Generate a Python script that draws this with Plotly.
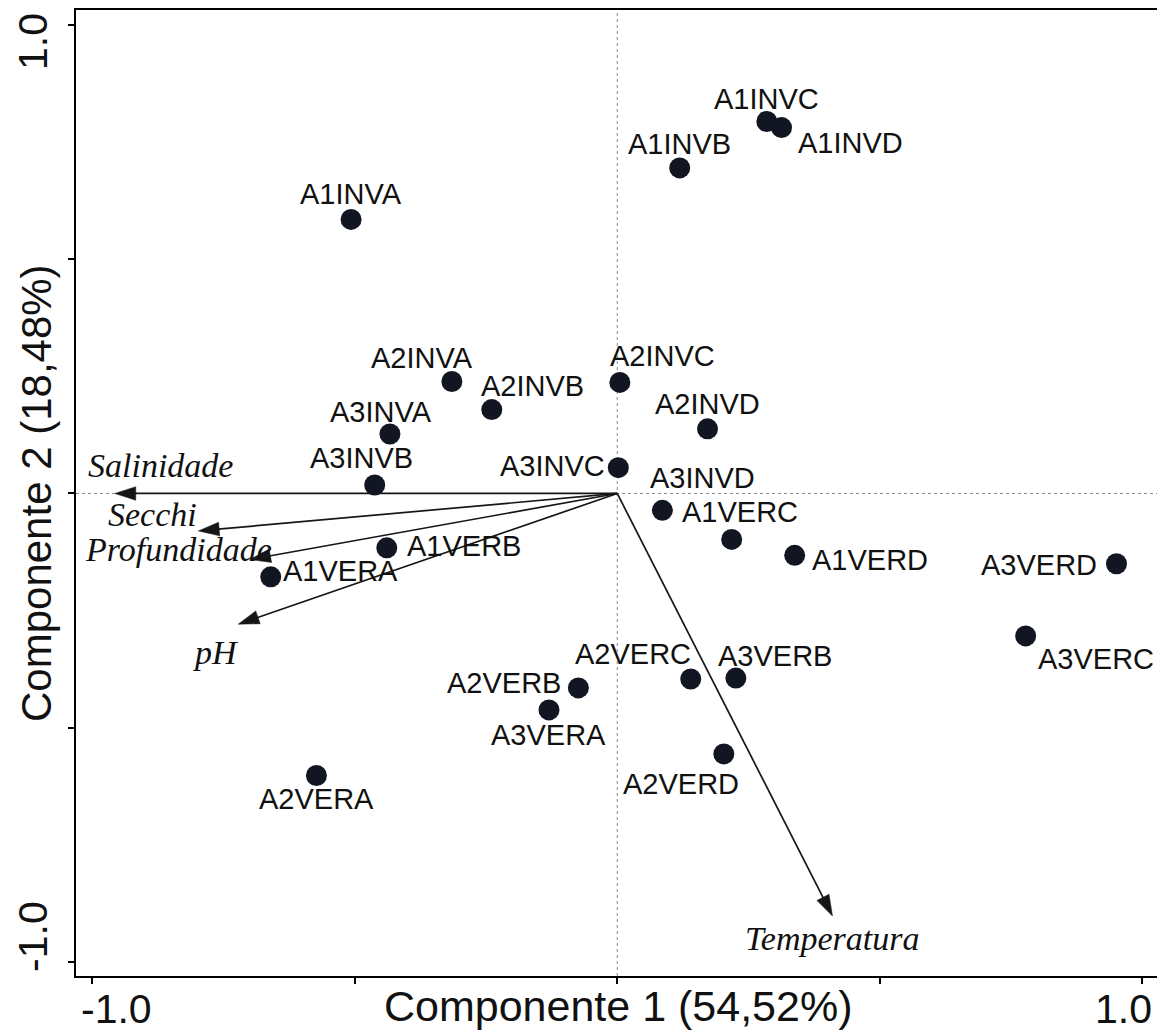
import plotly.graph_objects as go

# ---------------- data ----------------
samples = ["A1INVA", "A1INVB", "A1INVC", "A1INVD",
           "A2INVA", "A2INVB", "A2INVC", "A2INVD",
           "A3INVA", "A3INVB", "A3INVC", "A3INVD",
           "A1VERA", "A1VERB", "A1VERC", "A1VERD",
           "A2VERA", "A2VERB", "A2VERC", "A2VERD",
           "A3VERA", "A3VERB", "A3VERC", "A3VERD"]
pc1 = [-0.507, 0.119, 0.285, 0.313,
       -0.315, -0.239, 0.005, 0.172,
       -0.433, -0.462, 0.002, 0.086,
       -0.660, -0.439, 0.218, 0.338,
       -0.573, -0.074, 0.140, 0.203,
       -0.130, 0.226, 0.778, 0.951]
pc2 = [0.585, 0.695, 0.794, 0.781,
       0.239, 0.179, 0.237, 0.138,
       0.127, 0.018, 0.055, -0.036,
       -0.178, -0.116, -0.098, -0.132,
       -0.602, -0.415, -0.396, -0.556,
       -0.462, -0.394, -0.304, -0.150]

variables = ["Salinidade", "Secchi", "Profundidade", "pH", "Temperatura"]
load1 = [-0.957, -0.798, -0.700, -0.722, 0.410]
load2 = [0.000, -0.080, -0.141, -0.279, -0.902]

tick_vals = [-1.0, -0.5, 0.0, 0.5, 1.0]
tick_labels = ["-1.0", "", "", "", "1.0"]

x_title = "Componente 1 (54,52%)"
y_title = "Componente 2 (18,48%)"

# ---------------- styles (pixel offsets of labels) ----------------
sample_label_shift = {
    "A1INVA": (0, 25), "A1INVB": (0, 24), "A1INVC": (0, 23), "A1INVD": (69, -15),
    "A2INVA": (-30, 24), "A2INVB": (41, 24), "A2INVC": (43, 26), "A2INVD": (0, 25),
    "A3INVA": (-9, 22), "A3INVB": (-13, 27), "A3INVC": (-66, 2), "A3INVD": (40, 32),
    "A1VERA": (70, 6), "A1VERB": (77, 2), "A1VERC": (8, 27), "A1VERD": (75, -5),
    "A2VERA": (0, -24), "A2VERB": (-74, 5), "A2VERC": (-58, 25), "A2VERD": (-43, -30),
    "A3VERA": (0, -25), "A3VERB": (39, 22), "A3VERC": (70, -23), "A3VERD": (-77, -1),
}
var_label_shift = {
    "Salinidade": (46, 28), "Secchi": (-46, 16), "Profundidade": (-71, 10),
    "pH": (-22, -28), "Temperatura": (0, -22),
}
xtick_shift = {-1.0: 24, 1.0: -19}
ytick_shift = {-1.0: 25, 1.0: -17}

SANS = "Arial, Liberation Sans, sans-serif"
SERIF = "Times New Roman, Liberation Serif, serif"
DOT = "#111622"
INK = "#111111"
ARROW = "#161616"

fig = go.Figure()

# loading arrows
for name, lx, ly in zip(variables, load1, load2):
    fig.add_trace(go.Scatter(
        x=[0, lx], y=[0, ly], mode="lines+markers",
        line=dict(color=ARROW, width=1.7),
        marker=dict(symbol="arrow", size=[0, 22], angleref="previous", color=ARROW,
                    opacity=1, line=dict(width=0.5, color=ARROW)),
        hoverinfo="skip", showlegend=False, cliponaxis=False,
    ))

# sample points
fig.add_trace(go.Scatter(
    x=pc1, y=pc2, mode="markers", text=samples,
    marker=dict(size=21, color=DOT, line=dict(width=0)),
    showlegend=False, cliponaxis=False,
))

annotations = []
for name, x, y in zip(samples, pc1, pc2):
    dx, dy = sample_label_shift[name]
    annotations.append(dict(x=x, y=y, xref="x", yref="y", text=name, showarrow=False,
                            xshift=dx, yshift=dy, font=dict(family=SANS, size=29, color=INK)))
for name, lx, ly in zip(variables, load1, load2):
    dx, dy = var_label_shift[name]
    annotations.append(dict(x=lx, y=ly, xref="x", yref="y", text="<i>%s</i>" % name,
                            showarrow=False, xshift=dx, yshift=dy,
                            font=dict(family=SERIF, size=34, color=INK)))
# tick labels
for v, t in zip(tick_vals, tick_labels):
    if not t:
        continue
    annotations.append(dict(x=v, y=0, xref="x", yref="paper", text=t, showarrow=False,
                            xanchor="center", yanchor="middle",
                            xshift=xtick_shift[v], yshift=-33,
                            font=dict(family=SANS, size=41, color=INK)))
    annotations.append(dict(x=0, y=v, xref="paper", yref="y", text=t, showarrow=False,
                            xanchor="center", yanchor="middle", textangle=-90,
                            xshift=-43, yshift=ytick_shift[v],
                            font=dict(family=SANS, size=41, color=INK)))
# axis titles
annotations.append(dict(x=0.5, y=0, xref="paper", yref="paper", text=x_title, showarrow=False,
                        xanchor="center", yanchor="middle", xshift=1, yshift=-30,
                        font=dict(family=SANS, size=43, color=INK)))
annotations.append(dict(x=0, y=0.5, xref="paper", yref="paper", text=y_title, showarrow=False,
                        xanchor="center", yanchor="middle", textangle=-90, xshift=-40,
                        font=dict(family=SANS, size=42, color=INK)))

shapes = [
    dict(type="line", xref="paper", yref="y", x0=0, x1=1, y0=0, y1=0,
         line=dict(color="#8a8a8a", width=1, dash="dot"), layer="below"),
    dict(type="line", xref="x", yref="paper", x0=0, x1=0, y0=0, y1=1,
         line=dict(color="#8a8a8a", width=1, dash="dot"), layer="below"),
]

axis_common = dict(
    tickvals=tick_vals, showticklabels=False, ticks="outside", ticklen=6, tickwidth=2,
    tickcolor="black", showline=True, linewidth=2, linecolor="black", mirror=True,
    showgrid=False, zeroline=False,
)

# the page body adds an 8 px margin, so the figure is 8 px smaller and shifted
fig.update_layout(
    width=1157, height=1024,
    margin=dict(l=68, r=6, t=0, b=56, pad=0),
    paper_bgcolor="white", plot_bgcolor="white",
    xaxis=dict(range=[-1.031, 1.032], **axis_common),
    yaxis=dict(range=[-1.030, 1.032], **axis_common),
    annotations=annotations, shapes=shapes, showlegend=False,
)

fig.write_html("out.html")
